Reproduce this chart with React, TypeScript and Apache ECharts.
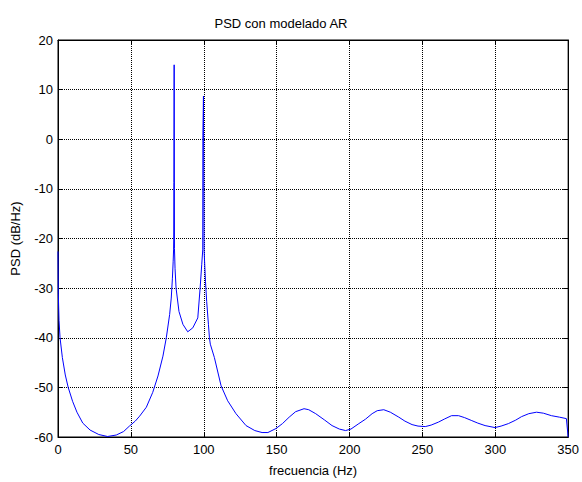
import React, { useEffect, useRef } from "react";
import * as echarts from "echarts";

const freqHz: number[] = [
  0, 0.2, 0.7, 1.4, 3, 5, 7, 10, 13, 17, 22, 28, 34, 40, 45, 49, 53, 56, 60.6, 65,
  68.6, 72, 74.3, 76.6, 77.7, 78.5, 79, 79.3, 79.4, 79.5, 79.7, 79.9, 80.3, 81, 83, 85.7,
  89, 92.5, 95.9, 97.5, 98.6, 99.3, 99.4, 99.8, 100.2, 101.2, 102, 103.2, 103.9, 104.5,
  107.3, 111.9, 116.4, 122.1, 129, 135, 140, 144, 149.5, 154, 158.6, 163, 168.8, 172,
  176.8, 183, 188, 193, 197.3, 201, 206.4, 211, 215.5, 219, 223.5, 228, 233.8, 238,
  242.9, 247, 252, 256, 261, 265, 270, 274.8, 279, 283.9, 288, 293, 299.8, 304, 309,
  314, 318, 323, 328.3, 333, 338.5, 344, 348.8, 350,
];

const psdDb: number[] = [
  -22.6, -31, -36.5, -40, -44, -47.5, -50, -52.8, -55, -57.2, -58.6, -59.5, -59.9, -59.6,
  -58.9, -57.8, -56.8, -55.8, -54, -51, -47.7, -43.7, -40, -35.3, -32, -28, -24.7, -22.3,
  -20.3, -8.7, 15, -22, -26, -30, -34.7, -37.3, -38.8, -38, -36, -30, -25.3, -22.3, 0.7,
  8.7, -22.3, -28.7, -32.7, -37.3, -40, -41.3, -44, -49.7, -52.7, -55.3, -57.7, -58.7,
  -59.1, -59.1, -58.3, -57.3, -56, -54.9, -54.3, -54.5, -55.3, -56.6, -57.7, -58.4, -58.7,
  -58.4, -57.3, -56.4, -55.3, -54.7, -54.5, -55, -56, -56.8, -57.5, -57.8, -57.9, -57.6,
  -57, -56.4, -55.7, -55.7, -56.1, -56.7, -57.2, -57.7, -58.1, -57.8, -57.3, -56.6, -55.9,
  -55.3, -55, -55.2, -55.7, -56, -56.3, -60,
];

const xTicks = { min: 0, max: 350, interval: 50 };
const yTicks = { min: -60, max: 20, interval: 10 };

const FONT = "Liberation Sans, Arial, sans-serif";

export default function App() {
  const ref = useRef<HTMLDivElement>(null);
  useEffect(() => {
    if (!ref.current) return;
    const chart = echarts.init(ref.current, undefined, { renderer: "svg" });
    const data = freqHz.map((f, i) => [f, psdDb[i]]);
    const splitLine = { show: true, lineStyle: { color: "#000", type: [1, 1] as any, width: 1 } };
    const tickStyle = { show: true, inside: true, length: 5, lineStyle: { color: "#000" } };
    chart.setOption({
      animation: false,
      backgroundColor: "#fff",
      grid: {
        left: 58, right: 12, top: 40, bottom: 42,
        show: true, borderColor: "#000", borderWidth: 1, backgroundColor: "transparent",
      },
      graphic: [
        {
          type: "text", x: 281, y: 23,
          style: {
            text: "PSD con modelado AR", fontFamily: FONT, fontSize: 13, fill: "#000",
            textAlign: "center", textVerticalAlign: "middle",
          },
        },
      ],
      xAxis: [
        {
          type: "value", ...xTicks,
          name: "frecuencia (Hz)", nameLocation: "middle", nameGap: 27,
          nameTextStyle: { fontFamily: FONT, fontSize: 13, color: "#000" },
          axisLine: { show: true, onZero: false, lineStyle: { color: "#000" } },
          axisTick: tickStyle,
          axisLabel: { fontFamily: FONT, fontSize: 13, color: "#000", margin: 6 },
          splitLine,
        },
        {
          type: "value", ...xTicks, position: "top",
          axisLine: { show: true, onZero: false, lineStyle: { color: "#000" } },
          axisTick: tickStyle, axisLabel: { show: false }, splitLine: { show: false },
        },
      ],
      yAxis: [
        {
          type: "value", ...yTicks,
          name: "PSD (dB/Hz)", nameLocation: "middle", nameGap: 36,
          nameTextStyle: { fontFamily: FONT, fontSize: 13, color: "#000" },
          axisLine: { show: true, onZero: false, lineStyle: { color: "#000" } },
          axisTick: tickStyle,
          axisLabel: { fontFamily: FONT, fontSize: 13, color: "#000", margin: 5 },
          splitLine,
        },
        {
          type: "value", ...yTicks, position: "right",
          axisLine: { show: true, onZero: false, lineStyle: { color: "#000" } },
          axisTick: tickStyle, axisLabel: { show: false }, splitLine: { show: false },
        },
      ],
      series: [
        {
          type: "line", data, showSymbol: false, symbol: "none",
          lineStyle: { color: "#0000ff", width: 1 }, clip: true, z: 3,
        },
      ],
    });
    return () => chart.dispose();
  }, []);
  return (
    <div
      ref={ref}
      style={{ position: "fixed", left: 0, top: 0, width: 582, height: 482, background: "#fff" }}
    />
  );
}
